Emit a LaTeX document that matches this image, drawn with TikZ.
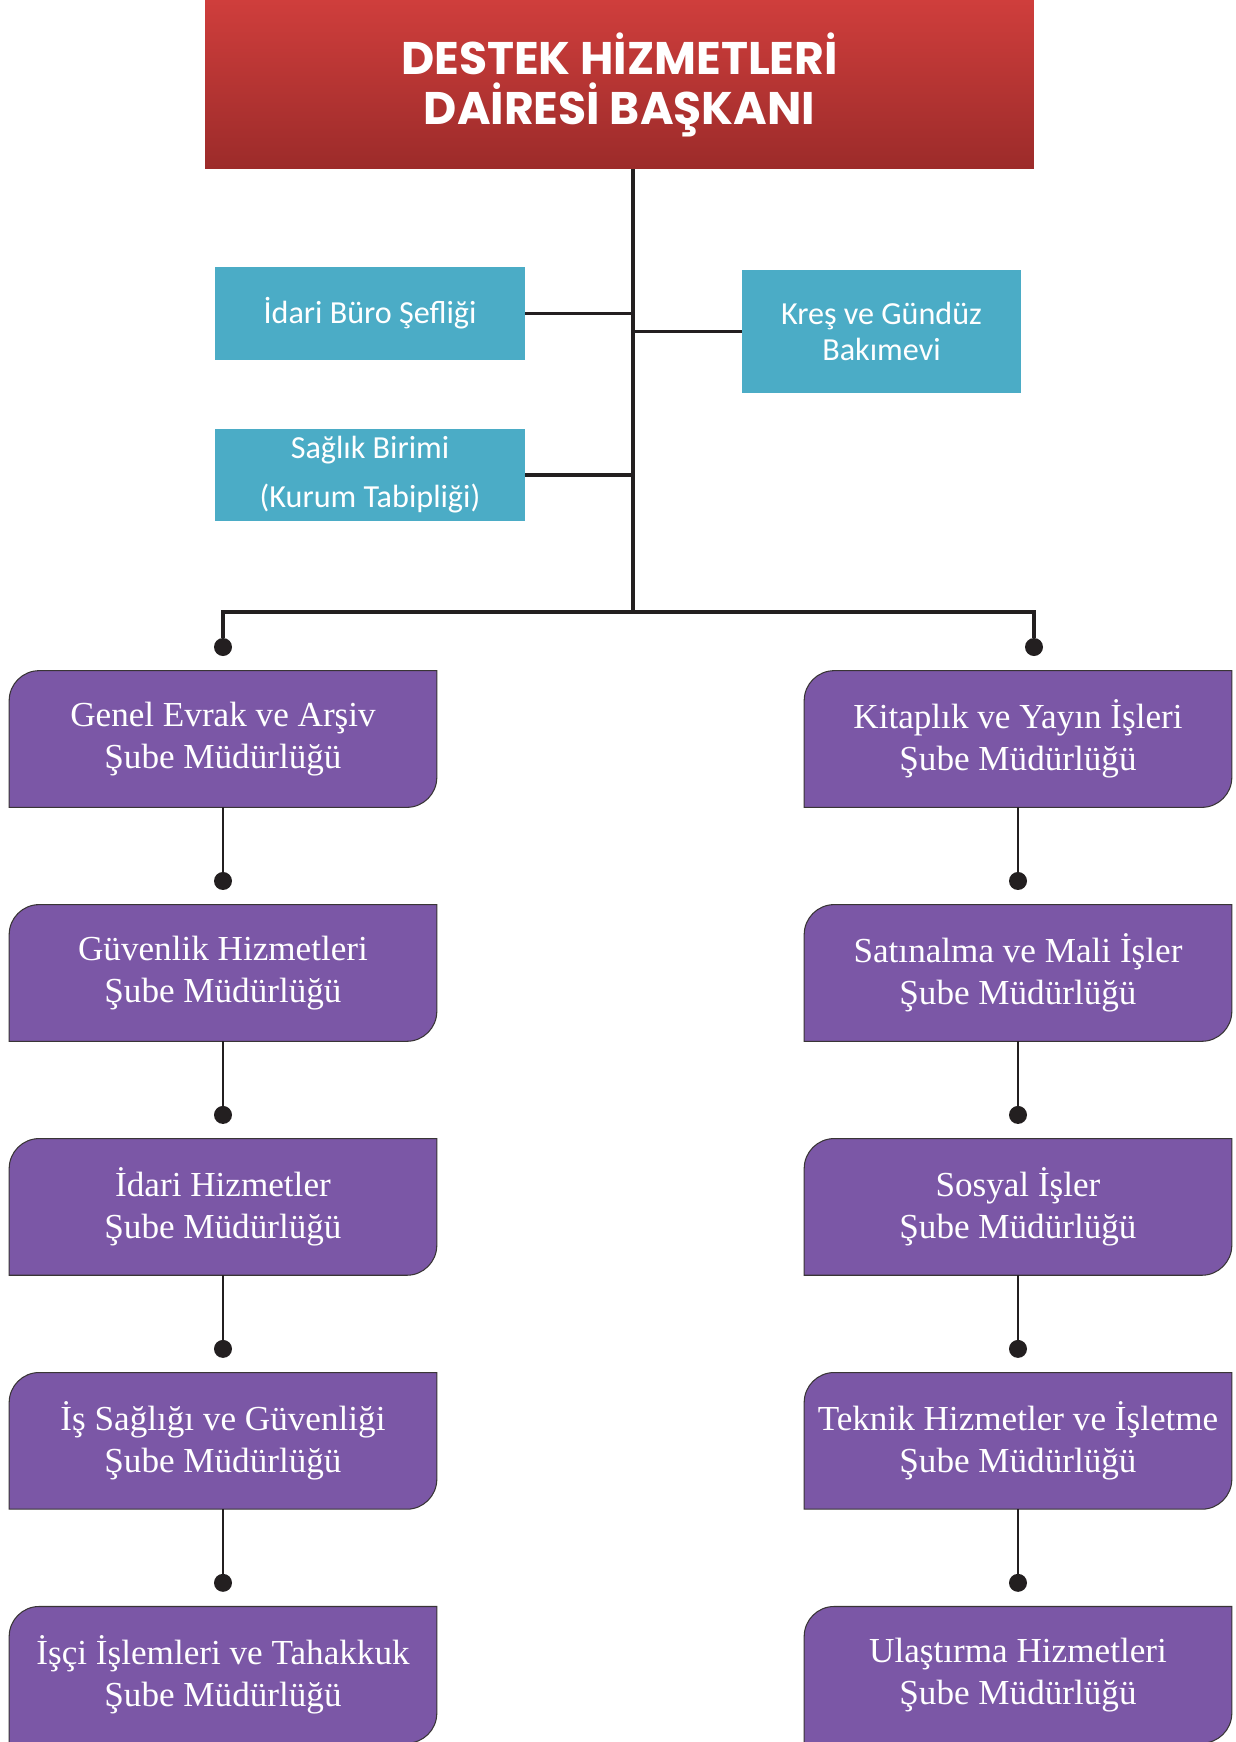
\documentclass[tikz,border=0pt]{standalone}
\usepackage{fontspec}
\usepackage{xcolor}
\usepackage{tikz}
\usetikzlibrary{shapes.geometric, arrows, positioning, backgrounds}
\newfontfamily\titlefont{Poppins}
\newfontfamily\unitfont{Carlito}
\newfontfamily\deptfont{Liberation Serif}
\definecolor{headtop}{HTML}{CF3E3C}
\definecolor{headbot}{HTML}{9C2B2A}
\definecolor{unitblue}{HTML}{4BACC6}
\definecolor{deptpurple}{HTML}{7B57A6}
\definecolor{linegray}{HTML}{231F20}

\begin{document}
\begin{tikzpicture}[x=0.02cm, y=-0.02cm, node distance=4.68cm]
			\tikzstyle{head} = [rectangle, minimum width=16.58cm, minimum height=3.38cm, inner sep=0pt, align=center, top color=headtop, bottom color=headbot, text=white, font=\titlefont\bfseries\fontsize{26}{28.4}\selectfont]
			\tikzstyle{unit} = [rectangle, minimum width=6.2cm, inner sep=0pt, align=center, fill=unitblue, text=white, font=\unitfont\fontsize{18.3}{20.4}\selectfont]
			\tikzstyle{dept} = [rectangle, minimum width=8.54cm, minimum height=2.72cm, inner sep=0pt, align=center, text=white, font=\deptfont\fontsize{20}{23.8}\selectfont]
			\tikzstyle{deptfill} = [fill=deptpurple, draw=linegray!90, line width=0.6pt]
			\tikzstyle{line} = [draw=linegray, line width=1.9pt]
			\tikzstyle{link} = [draw=linegray, line width=0.9pt]
			\tikzstyle{dot} = [circle, fill=linegray, inner sep=0pt, minimum size=0.36cm]

			\useasboundingbox (0,0) rectangle (1236,1742);

			\node (head) [head] at (619.5,84.5) {DESTEK HİZMETLERİ\\DAİRESİ BAŞKANI};
			\node (buro) [unit, minimum height=1.86cm] at (370,313.5) {İdari Büro Şefliği};
			\node (saglik) [unit, minimum height=1.84cm, font=\unitfont\fontsize{18.3}{27.8}\selectfont] at (370,475) {Sağlık Birimi\\(Kurum Tabipliği)};
			\node (kres) [unit, minimum width=5.58cm, minimum height=2.46cm] at (881.5,331.5) {Kreş ve Gündüz\\Bakımevi};
			\coordinate (split) at (633,612);

			% sol kolon
			\node (evrak) [dept] at (223,739) {Genel Evrak ve Arşiv\\Şube Müdürlüğü};
			\node (guvenlik) [dept, below of=evrak] {Güvenlik Hizmetleri\\Şube Müdürlüğü};
			\node (idari) [dept, below of=guvenlik] {İdari Hizmetler\\Şube Müdürlüğü};
			\node (isg) [dept, below of=idari] {İş Sağlığı ve Güvenliği\\Şube Müdürlüğü};
			\node (isci) [dept, below of=isg] {İşçi İşlemleri ve Tahakkuk\\Şube Müdürlüğü};

			% sag kolon
			\node (kitap) [dept] at (1018,739) {Kitaplık ve Yayın İşleri\\Şube Müdürlüğü};
			\node (satin) [dept, below of=kitap] {Satınalma ve Mali İşler\\Şube Müdürlüğü};
			\node (sosyal) [dept, below of=satin] {Sosyal İşler\\Şube Müdürlüğü};
			\node (teknik) [dept, below of=sosyal] {Teknik Hizmetler ve İşletme\\Şube Müdürlüğü};
			\node (ulasim) [dept, below of=teknik] {Ulaştırma Hizmetleri\\Şube Müdürlüğü};

			\node (devrak) [dot, node distance=1.84cm, above of=evrak] {};
			\node (dguvenlik) [dot, node distance=1.84cm, above of=guvenlik] {};
			\node (didari) [dot, node distance=1.84cm, above of=idari] {};
			\node (disg) [dot, node distance=1.84cm, above of=isg] {};
			\node (disci) [dot, node distance=1.84cm, above of=isci] {};
			\node (dkitap) [dot, node distance=1.84cm, above of=kitap, xshift=0.32cm] {};
			\node (dsatin) [dot, node distance=1.84cm, above of=satin] {};
			\node (dsosyal) [dot, node distance=1.84cm, above of=sosyal] {};
			\node (dteknik) [dot, node distance=1.84cm, above of=teknik] {};
			\node (dulasim) [dot, node distance=1.84cm, above of=ulasim] {};

			\begin{scope}[on background layer]
				\foreach \n in {evrak,guvenlik,idari,isg,isci,kitap,satin,sosyal,teknik,ulasim}
					\path [deptfill] (\n.south west) -- ([yshift=-0.6cm]\n.north west) arc[start angle=180, end angle=90, radius=0.6cm] -- (\n.north east) -- ([yshift=0.6cm]\n.south east) arc[start angle=0, end angle=-90, radius=0.6cm] -- cycle;
			\end{scope}

			\draw [line] (head.south -| split) -- (split);
			\draw [line] (buro.east) -- (buro.east -| split);
			\draw [line] (saglik.east) -- (saglik.east -| split);
			\draw [line] (kres.west) -- (kres.west -| split);
			\draw [line] (devrak) |- (split) -| (dkitap);

			\draw [link] (evrak.south) -- (dguvenlik);
			\draw [link] (guvenlik.south) -- (didari);
			\draw [link] (idari.south) -- (disg);
			\draw [link] (isg.south) -- (disci);
			\draw [link] (kitap.south) -- (dsatin);
			\draw [link] (satin.south) -- (dsosyal);
			\draw [link] (sosyal.south) -- (dteknik);
			\draw [link] (teknik.south) -- (dulasim);

		\end{tikzpicture}
\end{document}
